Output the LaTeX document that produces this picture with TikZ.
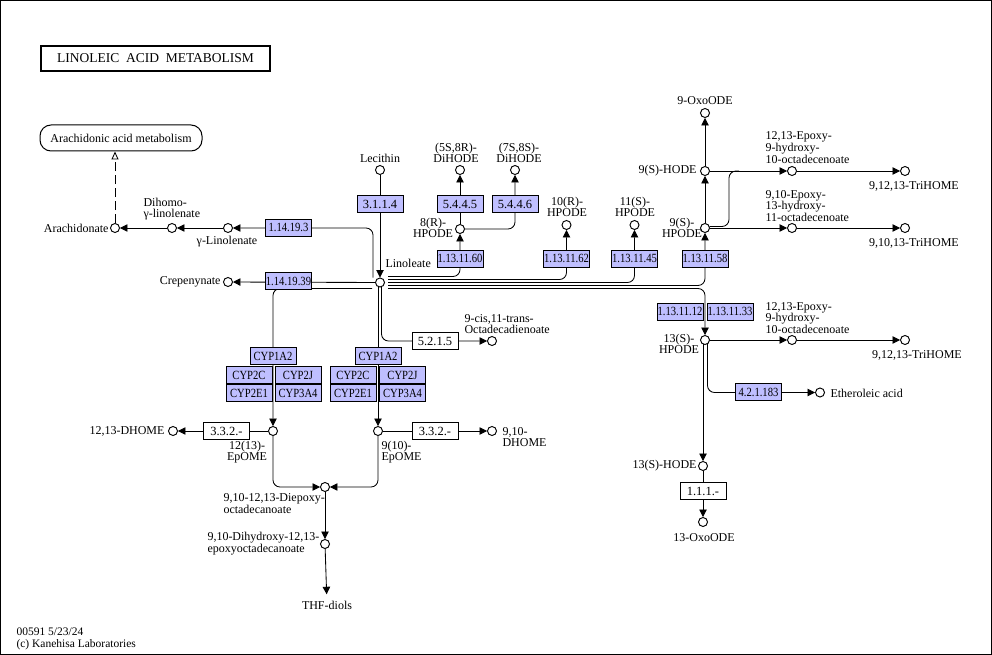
\documentclass[tikz,border=0pt]{standalone}
\usepackage{fontspec}
\setmainfont{Liberation Serif}
\newfontfamily\condfont[FakeStretch=0.85]{Liberation Serif}
\usetikzlibrary{arrows.meta,calc}
\definecolor{ecblue}{RGB}{191,191,255}
\pgfdeclarelayer{bg}
\pgfsetlayers{bg,main}
\begin{document}
\begin{tikzpicture}[x=1pt,y=-1pt,line width=1pt,
  cpd/.style={circle,draw,fill=white,minimum size=9pt,inner sep=0pt,line width=0.95pt},
  ec/.style={draw,fill=ecblue,minimum width=46pt,minimum height=17pt,inner sep=0pt,font=\condfont\fontsize{12.5}{12.5}\selectfont,line width=0.9pt},
  ecn/.style={ec,font=\fontsize{12.5}{12.5}\selectfont},
  ecw/.style={ec,fill=white,font=\fontsize{12.5}{12.5}\selectfont},
  lbl/.style={inner sep=0pt,font=\fontsize{12}{10.5}\selectfont,align=center},
  conn/.style={line width=0.85pt},
  arr/.style={conn,-{Triangle[length=7.5pt,width=7.5pt]}},
  rc/.style={rounded corners=7pt}]
\useasboundingbox (0,0) rectangle (992,655);
\draw (0.6,0.6) rectangle (991.4,654.4);

% title and map
\node[draw,line width=2pt,minimum width=229pt,minimum height=25pt,inner sep=0pt,font=\fontsize{13.5}{13.5}\selectfont] (title) at (155.5,58.5) {LINOLEIC\ \ ACID\ \ METABOLISM};
\node[draw,rounded corners=11pt,minimum width=162pt,minimum height=26pt,inner sep=0pt,font=\fontsize{12}{12}\selectfont] (map) at (121,138) {Arachidonic acid metabolism};

% compounds
\node[cpd] (arach) at (115,228) {};
\node[cpd] (dgla) at (172,228) {};
\node[cpd] (gla) at (228,228) {};
\node[cpd] (crep) at (228,282) {};
\node[cpd] (lec) at (380,170) {};
\node[cpd] (lin) at (380,282.5) {};
\node[cpd] (dh58) at (460,170) {};
\node[cpd] (dh78) at (515,170) {};
\node[cpd] (hp8) at (460,229) {};
\node[cpd] (hp10) at (566.5,225) {};
\node[cpd] (hp11) at (634.5,225) {};
\node[cpd] (hp9s) at (705,228) {};
\node[cpd] (hode9) at (705,171) {};
\node[cpd] (oxo9) at (705,113) {};
\node[cpd] (ep12a) at (792,171) {};
\node[cpd] (tri1) at (905,171) {};
\node[cpd] (ep9a) at (792,228) {};
\node[cpd] (tri2) at (905,228) {};
\node[cpd] (hp13) at (705,340) {};
\node[cpd] (ep12b) at (792,340) {};
\node[cpd] (tri3) at (905,340) {};
\node[cpd] (ether) at (820,392.5) {};
\node[cpd] (hode13) at (703,466) {};
\node[cpd] (oxo13) at (703,522) {};
\node[cpd] (oct) at (492,341) {};
\node[cpd] (ep12) at (273,431) {};
\node[cpd] (ep9) at (378,431) {};
\node[cpd] (dhome12) at (173,431) {};
\node[cpd] (dhome9) at (492,431) {};
\node[cpd] (diep) at (325,487) {};
\node[cpd] (dihy) at (325,544) {};

% enzymes
\node[ec] (e1) at (288.5,227.5) {1.14.19.3};
\node[ec] (e2) at (288.5,281) {1.14.19.39};
\node[ecn] (e3) at (380,204) {3.1.1.4};
\node[ecn] (e4) at (460,204) {5.4.4.5};
\node[ecn] (e5) at (515,204) {5.4.4.6};
\node[ec] (e6) at (460,258.5) {1.13.11.60};
\node[ec] (e7) at (566.5,258.5) {1.13.11.62};
\node[ec] (e8) at (634.5,258.5) {1.13.11.45};
\node[ec] (e9) at (705,258.5) {1.13.11.58};
\node[ec] (e10) at (680,311.5) {1.13.11.12};
\node[ec] (e11) at (730,311.5) {1.13.11.33};
\node[ec] (e12) at (758.5,392) {4.2.1.183};
\node[ecw] (e13) at (703,491) {1.1.1.-};
\node[ecw] (e14) at (435,341) {5.2.1.5};
\node[ecw] (e15) at (226.5,431) {3.3.2.-};
\node[ecw] (e16) at (435,431) {3.3.2.-};
\node[ec] (c1) at (273,356) {CYP1A2};
\node[ec] (c2) at (249,375) {CYP2C};
\node[ec] (c3) at (298,375) {CYP2J};
\node[ec] (c4) at (249,393) {CYP2E1};
\node[ec] (c5) at (298,393) {CYP3A4};
\node[ec] (c6) at (378,356) {CYP1A2};
\node[ec] (c7) at (353,375) {CYP2C};
\node[ec] (c8) at (402.5,375) {CYP2J};
\node[ec] (c9) at (353,393) {CYP2E1};
\node[ec] (c10) at (402.5,393) {CYP3A4};

% labels
\node[lbl,anchor=east] (t1) at (109,228) {Arachidonate};
\node[lbl,align=left,anchor=west] (t2) at (143,209) {Dihomo-\\γ-linolenate};
\node[lbl] (t3) at (227,242) {γ-Linolenate};
\node[lbl,anchor=east] (t4) at (221,282) {Crepenynate};
\node[lbl] (t5) at (380,158) {Lecithin};
\node[lbl,anchor=west] (t6) at (385,263) {Linoleate};
\node[lbl] (t7) at (456,153) {(5S,8R)-\\DiHODE};
\node[lbl] (t8) at (519,153) {(7S,8S)-\\DiHODE};
\node[lbl] (t9) at (433,228) {8(R)-\\HPODE};
\node[lbl] (t10) at (567,207) {10(R)-\\HPODE};
\node[lbl] (t11) at (635,207) {11(S)-\\HPODE};
\node[lbl] (t12) at (682,228) {9(S)-\\HPODE};
\node[lbl,anchor=east] (t13) at (697,171) {9(S)-HODE};
\node[lbl] (t14) at (705,101) {9-OxoODE};
\node[lbl,align=left,anchor=west] (t15) at (765,148) {12,13-Epoxy-\\9-hydroxy-\\10-octadecenoate};
\node[lbl] (t16) at (914,186) {9,12,13-TriHOME};
\node[lbl,align=left,anchor=west] (t17) at (765,206) {9,10-Epoxy-\\13-hydroxy-\\11-octadecenoate};
\node[lbl] (t18) at (914,243) {9,10,13-TriHOME};
\node[lbl] (t19) at (679,344) {13(S)-\\HPODE};
\node[lbl,align=left,anchor=west] (t20) at (765,318) {12,13-Epoxy-\\9-hydroxy-\\10-octadecenoate};
\node[lbl] (t21) at (917,355) {9,12,13-TriHOME};
\node[lbl,anchor=west] (t22) at (830,393) {Etheroleic acid};
\node[lbl,anchor=east] (t23) at (697,466) {13(S)-HODE};
\node[lbl] (t24) at (704,538) {13-OxoODE};
\node[lbl,align=left,anchor=west] (t25) at (464,324) {9-cis,11-trans-\\Octadecadienoate};
\node[lbl,anchor=east] (t26) at (165,431) {12,13-DHOME};
\node[lbl] (t27) at (247,452) {12(13)-\\EpOME};
\node[lbl,align=left,anchor=west] (t28) at (381,452) {9(10)-\\EpOME};
\node[lbl,align=left,anchor=west] (t29) at (502,437) {9,10-\\DHOME};
\node[lbl,align=left,anchor=west] (t30) at (223,504) {9,10-12,13-Diepoxy-\\octadecanoate};
\node[lbl,align=left,anchor=west] (t31) at (207,544) {9,10-Dihydroxy-12,13-\\epoxyoctadecanoate};
\node[lbl,inner ysep=6pt] (thf) at (327,605) {THF-diols};
\node[lbl,align=left,anchor=north west,font=\fontsize{11.5}{12}\selectfont] (t32) at (16,627) {00591 5/23/24\\(c) Kanehisa Laboratories};

% connectors
\begin{pgfonlayer}{bg}
\begin{scope}[line width=0.85pt]
\draw[conn,-{Triangle[open,length=8pt,width=7pt]},dash pattern=on 9pt off 4pt] (arach) -- (arach |- map.south);
\draw[arr] (gla) -- (dgla);
\draw[arr] (dgla) -- (arach);
\draw[arr,rc] ($(lin)+(-7,-5)$) |- (gla);
\draw[arr] (lin) -- (crep);
\draw[arr] (lec) -- (lin);
\draw[arr,rc] ($(lin)+(8,-6)$) -| (hp8);
\draw[arr,rc] ($(lin)+(8,-3)$) -| (hp10);
\draw[arr,rc] ($(lin)+(8,0)$) -| (hp11);
\draw[arr,rc] ($(lin)+(8,3)$) -| (hp9s);
\draw[arr,rc] ($(lin)+(8,6)$) -| (hp13);
\draw[arr] (hp8) -- (dh58);
\draw[arr,rc] (hp8) -| (dh78);
\draw[arr] (hp9s) -- (hode9);
\draw[arr] (hode9) -- (oxo9);
\draw[arr] (hode9) -- (ep12a);
\draw[arr] (ep12a) -- (tri1);
\draw[arr] (hp9s) -- (ep9a);
\draw[arr] (ep9a) -- (tri2);
\draw[conn,rc] ($(hp9s)+(4.5,-1.5)$) -| ($(hode9)+(24,0)$) -- ($(hode9)+(34,0)$);
\draw[arr] (hp13) -- (ep12b);
\draw[arr] (ep12b) -- (tri3);
\draw[arr,rc] ($(hp13)+(2.5,4)$) |- (ether);
\draw[arr] ($(hp13)+(-2,4)$) -- (hode13);
\draw[arr] (hode13) -- (oxo13);
\draw[arr,rc] ($(lin)+(-8,6)$) -| (ep12);
\draw[arr] ($(lin)+(-2,4.5)$) -- (ep9);
\draw[arr,rc] ($(lin)+(1.5,4.5)$) |- (oct);
\draw[arr] (ep12) -- (dhome12);
\draw[arr] (ep9) -- (dhome9);
\draw[arr,rc] (ep12) |- (diep);
\draw[arr,rc] (ep9) |- (diep);
\draw[arr] (diep) -- (dihy);
\draw[arr] (dihy) -- (thf);
\end{scope}
\end{pgfonlayer}
\end{tikzpicture}
\end{document}
